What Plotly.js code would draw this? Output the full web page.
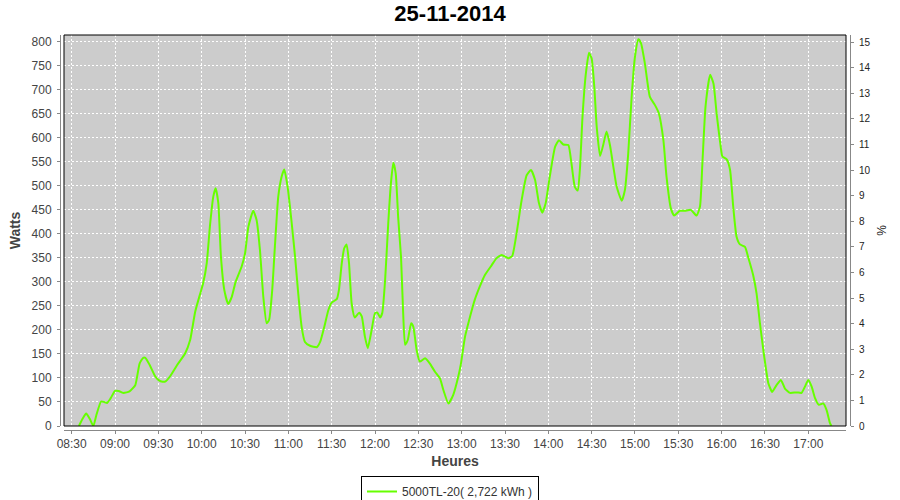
<!DOCTYPE html>
<html>
<head>
<meta charset="utf-8">
<script src="https://cdn.plot.ly/plotly-3.0.1.min.js"></script>
<style>
html,body{margin:0;padding:0;background:#fff;}
#chart{width:900px;height:500px;}
</style>
</head>
<body>
<div id="chart"></div>
<script>
var day = '2014-11-25';
var chartTitle = '25-11-2014';
var seriesName = '5000TL-20( 2,722 kWh )';
var times = ['08:35:00','08:37:30','08:40:00','08:42:30','08:45:00','08:47:00','08:50:20','08:52:30','08:54:30','08:57:00',
'09:00:00','09:02:30','09:05:30','09:08:00','09:10:00','09:14:00','09:17:00','09:19:30','09:21:00','09:24:00',
'09:27:40','09:30:00','09:33:00','09:35:00','09:38:00','09:43:00','09:48:30','09:52:00','09:55:30','09:59:00',
'10:01:00','10:03:30','10:05:40','10:08:00','10:09:40','10:11:30','10:13:20','10:15:40','10:18:20','10:20:50',
'10:23:30','10:27:40','10:30:00','10:32:20','10:35:40','10:38:00','10:40:20','10:42:40','10:45:00','10:46:40',
'10:48:50','10:50:40','10:53:00','10:55:20','10:57:10','10:59:30','11:02:20','11:04:40','11:06:50','11:09:10',
'11:11:30','11:15:00','11:19:40','11:22:00','11:25:20','11:27:40','11:30:00','11:33:30','11:35:00','11:37:00',
'11:38:40','11:40:20','11:42:00','11:43:50','11:46:00','11:49:00','11:50:50','11:53:00','11:55:00','11:57:40',
'12:00:00','12:01:40','12:03:30','12:05:00','12:07:00','12:09:10','12:11:00','12:12:40','12:14:20','12:16:00',
'12:18:00','12:19:20','12:20:50','12:22:40','12:25:00','12:26:30','12:28:50','12:31:00','12:34:40','12:38:00',
'12:41:30','12:45:00','12:47:20','12:50:50','12:54:10','12:57:40','12:59:30','13:02:20','13:05:50','13:09:00',
'13:12:30','13:16:00','13:20:50','13:24:00','13:27:40','13:32:20','13:35:00','13:38:00','13:41:30','13:45:00',
'13:48:00','13:50:50','13:53:30','13:55:50','13:58:10','14:01:00','14:04:40','14:07:20','14:10:20','14:13:50',
'14:16:00','14:18:20','14:20:20','14:21:50','14:23:40','14:26:00','14:28:10','14:30:00','14:31:50','14:33:30',
'14:35:50','14:38:00','14:40:20','14:42:40','14:45:00','14:47:20','14:50:50','14:53:00','14:55:20','14:57:40',
'15:00:00','15:02:20','15:04:10','15:06:50','15:10:20','15:13:50','15:16:30','15:19:40','15:21:50','15:24:50',
'15:27:10','15:31:00','15:34:30','15:38:40','15:42:40','15:45:00','15:46:40','15:48:50','15:52:00','15:54:20',
'15:56:30','15:59:30','16:00:30','16:03:30','16:05:50','16:08:00','16:10:20','16:12:40','16:16:10','16:18:20',
'16:21:50','16:24:10','16:26:30','16:29:30','16:32:20','16:35:00','16:38:00','16:41:00','16:43:50','16:47:20',
'16:51:50','16:55:20','16:57:40','17:00:00','17:02:20','17:04:40','17:07:20','17:10:20','17:12:40','17:15:00',
'17:16:00'];
var watts = [0,15,26,15,0,22,51,50,48,58,
73,73,69,70,72,85,130,142,142,127,
104,96,92,93,103,127,151,179,238,276,
297,339,415,477,495,464,352,283,254,269,
300,332,359,415,448,429,366,269,214,221,
283,373,477,519,534,498,422,352,276,207,
175,167,164,175,212,241,257,264,283,339,
370,378,339,255,226,236,228,186,162,200,
235,236,226,235,304,422,505,548,526,436,
352,248,169,179,214,207,158,134,141,130,
113,99,75,47,65,103,130,186,228,262,
290,314,335,349,356,349,354,401,470,522,
533,512,464,444,464,519,581,595,586,585,
547,498,490,533,644,734,777,765,706,623,
562,585,613,585,540,498,469,491,568,685,
769,805,797,755,685,668,651,595,519,453,
438,448,448,450,438,457,547,665,731,713,
651,578,561,555,533,457,394,378,373,352,
314,276,214,144,89,71,85,96,78,69,
70,69,82,96,82,58,44,47,33,6,
0];
var xStart = '08:24:40', xEnd = '17:26:06', xTick0 = '08:30:00';
var wattsMax = 814, pctMax = 15.28;

var xs = times.map(function(t){ return day + ' ' + t; });
var green = '#66ff00';
var tickFont = {family:'Liberation Sans, Arial, sans-serif', size:12, color:'#444'};

var traces = [
  {x: xs, y: watts, type:'scatter', mode:'lines', name: seriesName,
   line:{color:green, width:2, shape:'spline', smoothing:0.5}, xaxis:'x', yaxis:'y', hoverinfo:'x+y'},
  {x: [], y: [], type:'scatter', mode:'lines', showlegend:false, xaxis:'x', yaxis:'y2', hoverinfo:'skip'}
];

var W = 790, H = 395;
var layout = {
  width:900, height:500,
  margin:{l:60, r:50, t:35, b:70, pad:0},
  paper_bgcolor:'#ffffff',
  plot_bgcolor:'#cccccc',
  title:{text:chartTitle, x:0.5, xanchor:'center', y:0.988, yanchor:'top',
         font:{family:'Liberation Sans, Arial, sans-serif', size:22, weight:'bold', color:'#000'}},
  showlegend:true,
  legend:{orientation:'h', x:0.5, xanchor:'center', xref:'container', y:0.048, yanchor:'top', yref:'container',
          bordercolor:'#000', borderwidth:1, bgcolor:'#fff', itemwidth:30,
          font:{family:'Liberation Sans, Arial, sans-serif', size:12, color:'#333'}},
  xaxis:{type:'date', range:[day+' '+xStart, day+' '+xEnd], domain:[4/W, 1-4/W],
         anchor:'free', position:0,
         tick0: day+' '+xTick0, dtick:1800000, tickformat:'%H:%M',
         showline:true, linecolor:'#888', linewidth:1,
         ticks:'outside', ticklen:3, tickcolor:'#888', tickfont:tickFont,
         showgrid:true, gridcolor:'#ffffff', gridwidth:1, griddash:'2px,2px',
         zeroline:false,
         title:{text:'Heures', standoff:5, font:{family:'Liberation Sans, Arial, sans-serif', size:14, weight:'bold', color:'#444'}}},
  yaxis:{range:[0, wattsMax], domain:[4/H, 1], anchor:'free', position:0,
         dtick:50, tick0:0,
         showline:true, linecolor:'#888', linewidth:1,
         ticks:'outside', ticklen:3, tickcolor:'#888', tickfont:tickFont, ticklabelstandoff:3,
         showgrid:true, gridcolor:'#ffffff', gridwidth:1, griddash:'2px,2px',
         zeroline:false,
         title:{text:'Watts', standoff:6, font:{family:'Liberation Sans, Arial, sans-serif', size:14, weight:'bold', color:'#444'}}},
  yaxis2:{range:[0, pctMax], overlaying:'y', side:'right', anchor:'free', position:1,
          dtick:1, tick0:0,
          showline:true, linecolor:'#888', linewidth:1,
          ticks:'outside', ticklen:3, tickcolor:'#888', ticklabelstandoff:3,
          tickfont:{family:'Liberation Sans, Arial, sans-serif', size:10, color:'#222'},
          showgrid:false, zeroline:false,
          title:{text:'%', standoff:8, font:{family:'Liberation Sans, Arial, sans-serif', size:12, color:'#222'}}},
  shapes:[
    {type:'rect', xref:'x domain', yref:'y domain', x0:0, x1:1, y0:0, y1:1,
     line:{color:'#000', width:1}, fillcolor:'rgba(0,0,0,0)', layer:'above'}
  ]
};

Plotly.newPlot('chart', traces, layout, {staticPlot:true, displayModeBar:false});
</script>
</body>
</html>
